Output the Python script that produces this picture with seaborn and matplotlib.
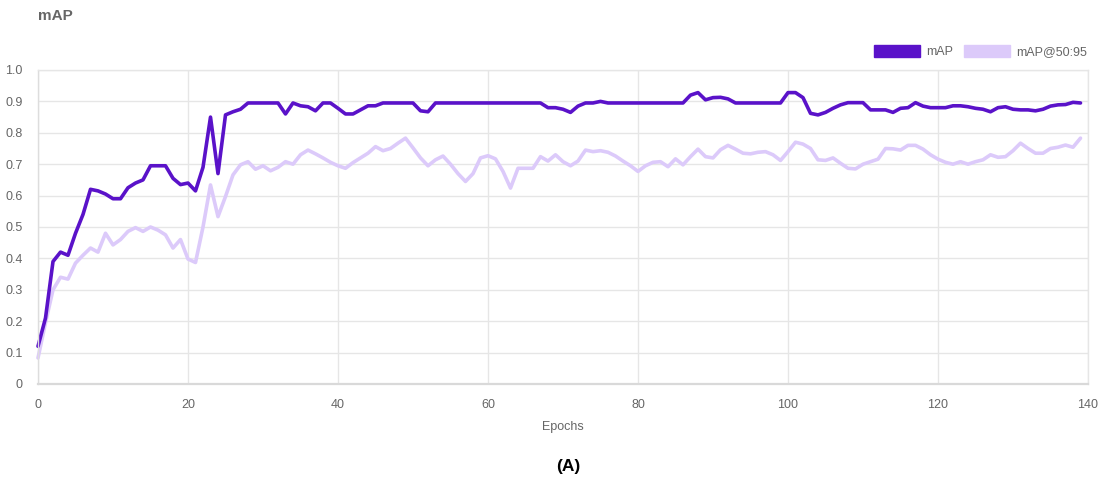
import numpy as np
import pandas as pd
import matplotlib
matplotlib.use("Agg")
import matplotlib.pyplot as plt
from matplotlib.patches import Patch
import seaborn as sns

# Per-epoch validation metrics
epochs = list(range(140))

map_values = [
    0.12, 0.21, 0.39, 0.42, 0.41, 0.48, 0.54, 0.62, 0.615, 0.605,
    0.59, 0.59, 0.625, 0.64, 0.65, 0.695, 0.695, 0.695, 0.655, 0.635,
    0.64, 0.615, 0.69, 0.85, 0.67, 0.857, 0.867, 0.875, 0.895, 0.895,
    0.895, 0.895, 0.895, 0.86, 0.895, 0.886, 0.883, 0.87, 0.895, 0.895,
    0.878, 0.86, 0.86, 0.873, 0.886, 0.886, 0.895, 0.895, 0.895, 0.895,
    0.895, 0.87, 0.867, 0.895, 0.895, 0.895, 0.895, 0.895, 0.895, 0.895,
    0.895, 0.895, 0.895, 0.895, 0.895, 0.895, 0.895, 0.895, 0.88, 0.88,
    0.875, 0.865, 0.885, 0.895, 0.895, 0.9, 0.895, 0.895, 0.895, 0.895,
    0.895, 0.895, 0.895, 0.895, 0.895, 0.895, 0.895, 0.92, 0.928, 0.905,
    0.912, 0.913, 0.908, 0.895, 0.895, 0.895, 0.895, 0.895, 0.895, 0.895,
    0.928, 0.928, 0.912, 0.862, 0.857, 0.865, 0.878, 0.889, 0.896, 0.896,
    0.896, 0.873, 0.873, 0.873, 0.865, 0.878, 0.88, 0.896, 0.885, 0.88,
    0.88, 0.88, 0.886, 0.886, 0.883, 0.878, 0.875, 0.867, 0.88, 0.883,
    0.875, 0.873, 0.873, 0.87, 0.875, 0.885, 0.889, 0.89, 0.897, 0.895,
]

map_50_95_values = [
    0.083, 0.195, 0.30, 0.34, 0.334, 0.385, 0.41, 0.433, 0.42, 0.48,
    0.443, 0.46, 0.486, 0.498, 0.486, 0.50, 0.49, 0.475, 0.433, 0.46,
    0.398, 0.387, 0.50, 0.634, 0.533, 0.597, 0.666, 0.698, 0.708, 0.684,
    0.695, 0.679, 0.69, 0.708, 0.70, 0.73, 0.745, 0.733, 0.72, 0.706,
    0.695, 0.687, 0.705, 0.72, 0.735, 0.756, 0.743, 0.75, 0.767, 0.783,
    0.752, 0.72, 0.695, 0.714, 0.726, 0.70, 0.67, 0.645, 0.67, 0.72,
    0.727, 0.717, 0.677, 0.624, 0.687, 0.687, 0.687, 0.724, 0.71, 0.73,
    0.708, 0.695, 0.71, 0.745, 0.74, 0.743, 0.738, 0.726, 0.71, 0.695,
    0.677, 0.695, 0.706, 0.708, 0.692, 0.717, 0.698, 0.724, 0.748, 0.724,
    0.72, 0.746, 0.76, 0.748, 0.735, 0.733, 0.738, 0.74, 0.73, 0.712,
    0.74, 0.77, 0.764, 0.75, 0.714, 0.712, 0.72, 0.703, 0.687, 0.685,
    0.70, 0.708, 0.716, 0.75, 0.749, 0.745, 0.76, 0.76, 0.748, 0.73,
    0.716, 0.706, 0.70, 0.708, 0.70, 0.708, 0.714, 0.73, 0.722, 0.724,
    0.743, 0.767, 0.75, 0.735, 0.735, 0.75, 0.754, 0.761, 0.754, 0.783,
]

series_names = ["mAP", "mAP@50:95"]
series_colors = ["#5a12c9", "#dccafa"]

x_ticks = list(range(0, 141, 20))
y_ticks = [0, 0.1, 0.2, 0.3, 0.4, 0.5, 0.6, 0.7, 0.8, 0.9, 1.0]
y_tick_labels = ["0", "0.1", "0.2", "0.3", "0.4", "0.5", "0.6", "0.7", "0.8", "0.9", "1.0"]

df = pd.DataFrame({
    "epoch": epochs * 2,
    "value": map_values + map_50_95_values,
    "series": [series_names[0]] * len(epochs) + [series_names[1]] * len(epochs),
})

sns.set_theme(style="white")
plt.rcParams["font.family"] = ["Liberation Sans", "DejaVu Sans"]

fig = plt.figure(figsize=(11.02, 4.82), dpi=100)
ax = fig.add_axes([38 / 1102, 1 - 384 / 482, (1088 - 38) / 1102, (384 - 70) / 482])

grid_color = "#e6e6e6"
text_color = "#666666"

# light series first so the main curve sits on top
sns.lineplot(
    data=df[df["series"] == series_names[1]], x="epoch", y="value",
    color=series_colors[1], linewidth=2.6, ax=ax, legend=False,
)
sns.lineplot(
    data=df[df["series"] == series_names[0]], x="epoch", y="value",
    color=series_colors[0], linewidth=2.6, ax=ax, legend=False,
)
for line in ax.lines:
    line.set_clip_on(False)
    line.set_solid_joinstyle("round")
    line.set_solid_capstyle("round")

ax.set_xlim(0, 140)
ax.set_ylim(0, 1.0)
ax.set_xticks(x_ticks)
ax.set_xticklabels([str(t) for t in x_ticks])
ax.set_yticks(y_ticks)
ax.set_yticklabels(y_tick_labels)
ax.grid(True, color=grid_color, linewidth=1.0)
ax.set_axisbelow(True)
ax.tick_params(axis="both", length=7, width=1.0, color=grid_color,
               labelsize=9, labelcolor=text_color, pad=4)

for side in ["top", "right"]:
    ax.spines[side].set_color(grid_color)
    ax.spines[side].set_linewidth(1.0)
ax.spines["left"].set_color("#dddddd")
ax.spines["left"].set_linewidth(1.0)
ax.spines["bottom"].set_color("#d9d9d9")
ax.spines["bottom"].set_linewidth(1.6)

ax.set_xlabel("Epochs", fontsize=9, color=text_color, labelpad=7)
ax.set_ylabel("")

fig.text(38 / 1102, 1 - 16 / 482, "mAP", fontsize=11, fontweight="bold",
         color=text_color, ha="left", va="center")

handles = [Patch(facecolor=c, edgecolor=c, label=n)
           for n, c in zip(series_names, series_colors)]
fig.legend(handles=handles, loc="upper right", bbox_to_anchor=(1092 / 1102, 1 - 40 / 482),
           ncol=2, frameon=False, fontsize=9, labelcolor=text_color,
           handlelength=3.7, handleheight=1.1, handletextpad=0.5,
           columnspacing=0.8, borderaxespad=0)

fig.text(568 / 1102, 1 - 467 / 482, "(A)", fontsize=12.5, fontweight="bold",
         color="black", ha="center", va="center")

fig.savefig("out.png", dpi=100)
